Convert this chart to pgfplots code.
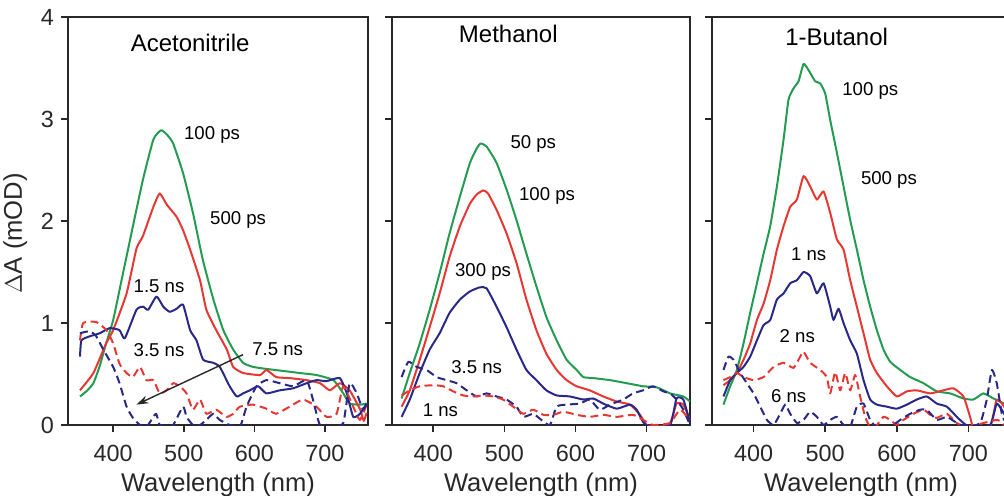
\documentclass[border=0pt]{standalone}
\usepackage{fontspec}
\setmainfont{Liberation Sans}
\usepackage{pgfplots}
\pgfplotsset{compat=1.18}
\usetikzlibrary{arrows.meta}
\definecolor{cgreen}{RGB}{35,155,80}
\definecolor{cred}{RGB}{230,55,50}
\definecolor{cblue}{RGB}{40,40,135}
\definecolor{ctext}{RGB}{40,40,40}
\newcommand{\annfont}{\fontsize{9.3}{11}\selectfont}
\newcommand{\ttlfont}{\fontsize{12}{14}\selectfont}
\pgfplotsset{
  panel/.style={
    scale only axis, width=149pt, height=204pt,
    anchor=south west,
    ymin=0, ymax=4, ytick={0,1,2,3,4},
    xtick={400,500,600,700},
    tick align=outside, major tick length=3.5pt,
    xtick pos=bottom, ytick pos=left,
    axis line style={line width=0.8pt, ctext},
    tick style={line width=0.8pt, ctext},
    /pgf/number format/assume math mode=true,
    tick label style={font=\fontsize{11.7}{14}\selectfont, text=ctext},
    xticklabel style={yshift=-3pt},
    label style={font=\fontsize{12.8}{15}\selectfont, text=ctext},
    xlabel={Wavelength (nm)},
    xlabel style={yshift=1.2pt},
    every axis plot/.append style={line width=1pt, no markers, line join=round, smooth, tension=0.3},
    every node/.append style={text=ctext},
  },
  dsh/.style={dash pattern=on 4pt off 2.3pt},
}
\begin{document}
\begin{tikzpicture}
% ---------------- Acetonitrile
\begin{axis}[panel, at={(34pt,35pt)}, width=150pt, xmin=336, xmax=761,
  ylabel={$\Delta$A (mOD)},
  ylabel style={at={(ticklabel cs:0.46)}, xshift=2pt}]
\addplot[cgreen] coordinates {(353,0.28)(362,0.33)(372,0.41)(381,0.58)(390,0.80)(400,1.03)(414,1.49)(428,1.95)(442,2.40)(457,2.80)(468,2.89)(477,2.84)(485,2.76)(499,2.47)(513,2.08)(527,1.62)(542,1.23)(556,0.93)(570,0.74)(584,0.61)(598,0.57)(617,0.55)(641,0.53)(664,0.51)(688,0.49)(712,0.44)(726,0.31)(735,0.21)(750,0.20)(759,0.21)};
\addplot[cred] coordinates {(353,0.34)(372,0.51)(390,0.80)(400,0.93)(419,1.29)(433,1.73)(442,1.85)(457,2.14)(466,2.27)(476,2.16)(490,2.04)(499,1.91)(509,1.72)(523,1.42)(532,1.13)(546,0.93)(561,0.74)(570,0.57)(584,0.51)(608,0.49)(617,0.54)(631,0.47)(650,0.46)(674,0.44)(693,0.41)(707,0.34)(721,0.41)(735,0.34)(750,0.15)(755,0.04)(759,0.12)};
\addplot[cblue] coordinates {(353,0.67)(355,0.83)(367,0.87)(381,0.90)(395,0.95)(409,0.93)(416.5,0.85)(433,1.13)(442.5,1.16)(449.6,1.13)(461.4,1.26)(471,1.16)(480,1.11)(490,1.14)(499,1.18)(509,0.93)(518,0.83)(527.5,0.64)(541.7,0.61)(551,0.57)(565,0.38)(575,0.28)(584,0.31)(593.7,0.34)(605.5,0.38)(617,0.31)(636,0.34)(655,0.36)(674,0.41)(688,0.44)(702,0.43)(721,0.46)(731,0.31)(740,0.08)(749.6,0.11)(759,0.21)};
\addplot[cred, dsh] coordinates {(353,0.83)(357.5,1.0)(376,1.01)(390.5,0.93)(400,0.80)(409,0.60)(419,0.51)(428,0.47)(438,0.57)(447,0.44)(457,0.44)(466,0.31)(475.6,0.34)(485,0.41)(494.5,0.38)(504,0.31)(513,0.15)(523,0.25)(532,0.11)(546,0.15)(560.6,0.08)(570,0.11)(579.5,0.18)(598,0.20)(617,0.16)(631,0.11)(650,0.18)(669,0.25)(688,0.18)(702,0.08)(716.5,0.11)(726,0.38)(740,0.18)(749.6,0.05)(759,0.20)};
\addplot[cblue, dsh] coordinates {(353,0.90)(367,0.92)(376,0.87)(386,0.74)(400,0.57)(409,0.41)(419,0.18)(428,0.07)(438,0.0)(447,-0.02)(457,0.08)(461,0.11)(466,0.0)(475.6,-0.02)(485,0.0)(499,0.18)(504,0.08)(513,0.0)(523,0.0)(532,0.05)(541.7,0.11)(551,0.05)(565,0.0)(579.5,-0.02)(589,0.18)(603,0.38)(617,0.44)(636,0.41)(655,0.38)(674,0.44)(683,0.25)(693,0.0)(712,-0.02)(726,0.02)(735,0.41)(745,0.31)(754,0.15)(759,0.21)};
\node[font=\ttlfont] at (axis cs:509,3.75) {Acetonitrile};
\node[font=\annfont] at (axis cs:540,2.84) {100 ps};
\node[font=\annfont] at (axis cs:577,2.01) {500 ps};
\node[font=\annfont] at (axis cs:465,1.36) {1.5 ns};
\node[font=\annfont] at (axis cs:465,0.73) {3.5 ns};
\node[font=\annfont] at (axis cs:633,0.74) {7.5 ns};
\draw[-{Stealth[length=6pt,width=4pt]}, line width=0.7pt, ctext] (axis cs:584,0.69) -- (axis cs:433,0.20);
\end{axis}
% ---------------- Methanol
\begin{axis}[panel, at={(196pt,35pt)}, xmin=342, xmax=761, yticklabels={}]
\addplot[cgreen] coordinates {(355.5,0.26)(367,0.51)(381,0.80)(395,1.13)(409,1.49)(423,1.88)(437.5,2.24)(451.6,2.57)(461,2.71)(466.6,2.76)(475,2.73)(489,2.57)(503,2.31)(517,2.01)(531,1.68)(545,1.36)(559,1.06)(573.5,0.83)(587.5,0.64)(601.6,0.54)(611,0.47)(625,0.46)(648.5,0.44)(672,0.41)(695,0.38)(714,0.37)(733,0.31)(751.6,0.28)(761,0.23)};
\addplot[cred] coordinates {(355.5,0.18)(367,0.34)(381,0.64)(395,0.96)(409,1.29)(423,1.65)(437.5,1.95)(451.6,2.17)(461,2.26)(470.3,2.30)(477,2.27)(489,2.11)(503,1.88)(517,1.59)(531,1.23)(545,0.93)(559,0.70)(573.5,0.54)(587.5,0.44)(601.6,0.38)(620,0.34)(639,0.28)(658,0.23)(676.6,0.20)(690.7,0.10)(700,0.0)(714,-0.02)(733,0.02)(742,0.21)(751.6,0.20)(761,0.05)};
\addplot[cblue] coordinates {(355.5,0.08)(367,0.25)(381,0.51)(395,0.74)(409,0.90)(423,1.10)(437.5,1.23)(451.6,1.31)(465.6,1.35)(475,1.34)(489,1.16)(503,0.96)(517,0.74)(531,0.54)(545,0.44)(559,0.34)(573.5,0.29)(592,0.28)(611,0.25)(625,0.26)(639,0.21)(658,0.16)(676.6,0.20)(686,0.15)(695,0.03)(704.7,-0.02)(733,0.0)(742,0.26)(751.6,0.25)(761,0.02)};
\addplot[cblue, dsh] coordinates {(355.5,0.47)(365,0.62)(376.6,0.57)(390.6,0.54)(404.7,0.47)(418.8,0.44)(432.8,0.41)(447,0.34)(461,0.28)(475,0.31)(489,0.28)(503,0.25)(517,0.18)(526.6,0.08)(540.6,0.11)(552,0.05)(564,0.0)(573.5,0.18)(587.5,0.20)(606,0.21)(620,0.25)(634,0.15)(648.5,0.20)(667,0.25)(681,0.31)(695,0.34)(709,0.38)(723.5,0.33)(733,0.31)(742,0.25)(751.6,0.15)(761,0.0)};
\addplot[cred, dsh] coordinates {(355.5,0.29)(367,0.34)(381,0.38)(400,0.39)(414,0.38)(428,0.33)(442,0.29)(456,0.28)(470,0.29)(484,0.28)(498,0.25)(512.5,0.18)(526.6,0.11)(540.6,0.15)(554.7,0.10)(568.8,0.10)(583,0.13)(601.6,0.10)(620,0.08)(639,0.10)(658,0.08)(681,0.10)(695,0.05)(709,0.0)(733,0.02)(747,0.15)(761,0.05)};
\node[font=\ttlfont] at (axis cs:505.5,3.83) {Methanol};
\node[font=\annfont] at (axis cs:540.6,2.76) {50 ps};
\node[font=\annfont] at (axis cs:560,2.25) {100 ps};
\node[font=\annfont] at (axis cs:470,1.50) {300 ps};
\node[font=\annfont] at (axis cs:461,0.57) {3.5 ns};
\node[font=\annfont] at (axis cs:410,0.15) {1 ns};
\end{axis}
% ---------------- 1-Butanol
\begin{axis}[panel, at={(356pt,35pt)}, xmin=342, xmax=758, yticklabels={}]
\addplot[cgreen] coordinates {(358,0.20)(367.4,0.38)(376.7,0.54)(386,0.80)(395.3,1.10)(404.7,1.39)(414,1.68)(423.3,1.95)(432.6,2.34)(441.9,2.80)(448.8,3.19)(455.8,3.30)(462.8,3.37)(469.8,3.54)(476.7,3.48)(486,3.37)(493,3.35)(500,3.25)(507,2.99)(516.3,2.67)(525.6,2.34)(534.9,2.01)(544.2,1.72)(553.5,1.42)(562.8,1.16)(572.1,0.93)(581.4,0.74)(590.7,0.62)(604.7,0.54)(618.6,0.47)(637.2,0.41)(655.8,0.33)(674.4,0.31)(693,0.26)(707,0.25)(720.9,0.31)(734.9,0.26)(749.8,0.21)(758,0.18)};
\addplot[cred] coordinates {(358,0.39)(367.4,0.44)(376.7,0.51)(386,0.64)(395.3,0.80)(404.7,1.03)(414,1.19)(423.3,1.42)(432.6,1.72)(441.9,1.95)(451.2,2.14)(460.5,2.21)(469.8,2.44)(479,2.34)(488.4,2.21)(497.7,2.29)(507,2.08)(516.3,1.82)(525.6,1.72)(534.9,1.42)(544.2,1.16)(553.5,0.90)(562.8,0.64)(572.1,0.51)(586,0.38)(600,0.28)(614,0.33)(627.9,0.34)(646.5,0.31)(665,0.34)(679,0.36)(693,0.28)(702.3,0.08)(707,-0.02)(730.2,-0.02)(739.5,0.25)(749.8,0.18)(758,0.05)};
\addplot[cblue] coordinates {(358,0.28)(367.4,0.44)(376.7,0.51)(386,0.57)(395.3,0.67)(404.7,0.83)(414,0.98)(423.3,1.03)(432.6,1.23)(441.9,1.29)(451.2,1.39)(460.5,1.42)(469.8,1.50)(479,1.46)(488.4,1.29)(497.7,1.39)(507,1.16)(511.6,1.03)(518.6,1.14)(525.6,1.00)(534.9,0.83)(544.2,0.70)(553.5,0.44)(562.8,0.25)(572.1,0.20)(586,0.18)(600,0.16)(614,0.20)(627.9,0.25)(641.9,0.28)(655.8,0.21)(669.8,0.18)(683.7,0.08)(693,0.02)(702.3,-0.02)(730.2,0.0)(739.5,0.21)(749.8,0.11)(758,0.0)};
\addplot[cred, dsh] coordinates {(358,0.44)(367.4,0.47)(376.7,0.51)(386,0.47)(400,0.44)(414,0.47)(428,0.57)(441.9,0.61)(455.8,0.56)(465.1,0.67)(469.8,0.72)(479,0.61)(493,0.54)(502.3,0.47)(507,0.31)(514,0.52)(521,0.34)(528,0.51)(534.9,0.34)(541.9,0.49)(548.8,0.28)(555.8,0.08)(562.8,-0.02)(572.1,0.0)(581.4,0.08)(590.7,0.05)(600,0.0)(609.3,0.05)(623.3,0.11)(637.2,0.15)(646.5,0.10)(655.8,0.07)(669.8,0.11)(683.7,0.02)(697.7,-0.02)(739.5,0.05)(749.8,0.0)(758,0.0)};
\addplot[cblue, dsh] coordinates {(358,0.54)(365,0.67)(372,0.64)(381.4,0.51)(390.7,0.41)(400,0.31)(409.3,0.18)(418.6,0.05)(428,0.0)(437.2,0.11)(444.2,0.20)(451.2,0.11)(460.5,0.02)(469.8,0.05)(479,0.13)(488.4,0.08)(497.7,0.0)(507,0.05)(516.3,0.08)(525.6,0.0)(534.9,-0.02)(544.2,0.18)(553.5,0.21)(562.8,0.05)(572.1,-0.02)(590.7,-0.02)(604.7,0.05)(618.6,0.11)(632.6,0.15)(641.9,0.15)(655.8,0.05)(669.8,0.08)(683.7,0.02)(697.7,-0.02)(716.3,0.02)(725.6,0.25)(732.6,0.54)(739.5,0.41)(746.5,0.11)(749.8,0.05)(758,0.0)};
\node[font=\ttlfont] at (axis cs:516,3.80) {1-Butanol};
\node[font=\annfont] at (axis cs:563,3.28) {100 ps};
\node[font=\annfont] at (axis cs:589,2.40) {500 ps};
\node[font=\annfont] at (axis cs:477,1.67) {1 ns};
\node[font=\annfont] at (axis cs:461,0.87) {2 ns};
\node[font=\annfont] at (axis cs:449,0.28) {6 ns};
\end{axis}
\pgfresetboundingbox
\useasboundingbox (0,0) rectangle (502pt,247.5pt);
\end{tikzpicture}
\end{document}
